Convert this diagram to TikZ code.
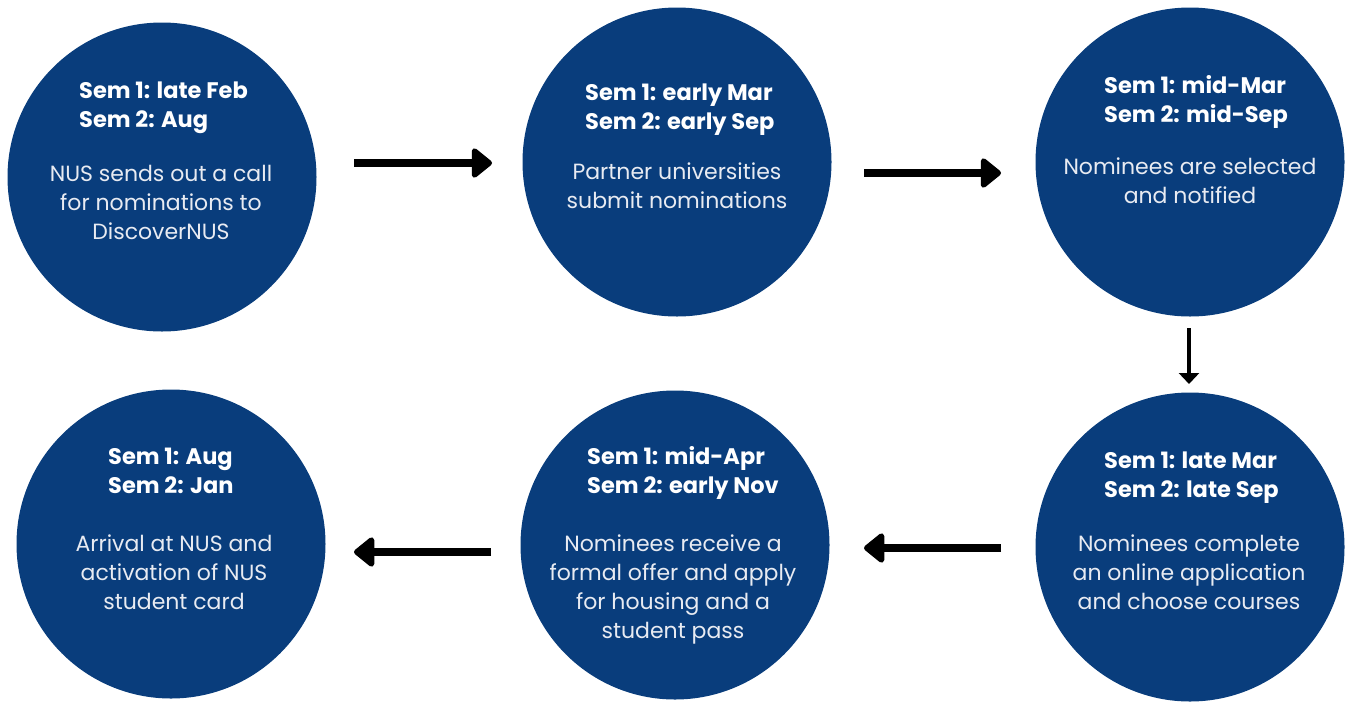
\documentclass[tikz,border=0pt]{standalone}
\usepackage{fontspec}
\setmainfont{Poppins}
\usetikzlibrary{arrows.meta}
\definecolor{navy}{RGB}{9,61,124}
\definecolor{bodytxt}{RGB}{232,235,242}
\tikzset{
  stage/.style={circle, fill=navy, draw=none, minimum size=309pt, inner sep=0pt},
  headtxt/.style={anchor=base west, align=left, inner sep=0pt, text=white,
    font=\fontsize{22.5}{29}\selectfont\bfseries},
  bodytext/.style={anchor=base, align=center, inner sep=0pt, text=bodytxt,
    font=\fontsize{22}{29}\selectfont},
  bigarrow/.style={line width=8pt, -{Triangle[width=34pt,length=22pt,round]}, line join=round},
  smallarrow/.style={line width=4.5pt, -{Triangle[width=20pt,length=11pt]}}
}
\begin{document}
\begin{tikzpicture}[x=1pt,y=-1pt]
\useasboundingbox (0,0) rectangle (1348,702);
% circles
\node[stage] (c1) at (162,177) {};
\node[stage] (c2) at (677,162) {};
\node[stage] (c3) at (1190,162) {};
\node[stage] (c4) at (1190,547) {};
\node[stage] (c5) at (675,545) {};
\node[stage] (c6) at (171,544) {};
% texts (base = baseline of the last line)
\node[headtxt] (h1) at (79,127) {Sem 1: late Feb\\Sem 2: Aug};
\node[bodytext] (b1) at (161,239) {NUS sends out a call\\for nominations to\\DiscoverNUS};
\node[headtxt] (h2) at (585,129) {Sem 1: early Mar\\Sem 2: early Sep};
\node[bodytext] (b2) at (677,208) {Partner universities\\submit nominations};
\node[headtxt] (h3) at (1104,122) {Sem 1: mid-Mar\\Sem 2: mid-Sep};
\node[bodytext] (b3) at (1190,203) {Nominees are selected\\and notified};
\node[headtxt] (h4) at (1104,497) {Sem 1: late Mar\\Sem 2: late Sep};
\node[bodytext] (b4) at (1189,609) {Nominees complete\\an online application\\and choose courses};
\node[headtxt] (h5) at (587,493) {Sem 1: mid-Apr\\Sem 2: early Nov};
\node[bodytext] (b5) at (673,638) {Nominees receive a\\formal offer and apply\\for housing and a\\student pass};
\node[headtxt] (h6) at (108,493) {Sem 1: Aug\\Sem 2: Jan};
\node[bodytext] (b6) at (174,609) {Arrival at NUS and\\activation of NUS\\student card};
% arrow end points
\coordinate (a1s) at (354,163); \coordinate (a1e) at (492,163);
\coordinate (a2s) at (864,173); \coordinate (a2e) at (1001,173);
\coordinate (a3s) at (1189,328); \coordinate (a3e) at (1189,384);
\coordinate (a4s) at (1001,548); \coordinate (a4e) at (864,548);
\coordinate (a5s) at (491,552); \coordinate (a5e) at (354,552);
\draw[bigarrow] (a1s) -- (a1e);
\draw[bigarrow] (a2s) -- (a2e);
\draw[smallarrow] (a3s) -- (a3e);
\draw[bigarrow] (a4s) -- (a4e);
\draw[bigarrow] (a5s) -- (a5e);
\end{tikzpicture}
\end{document}
